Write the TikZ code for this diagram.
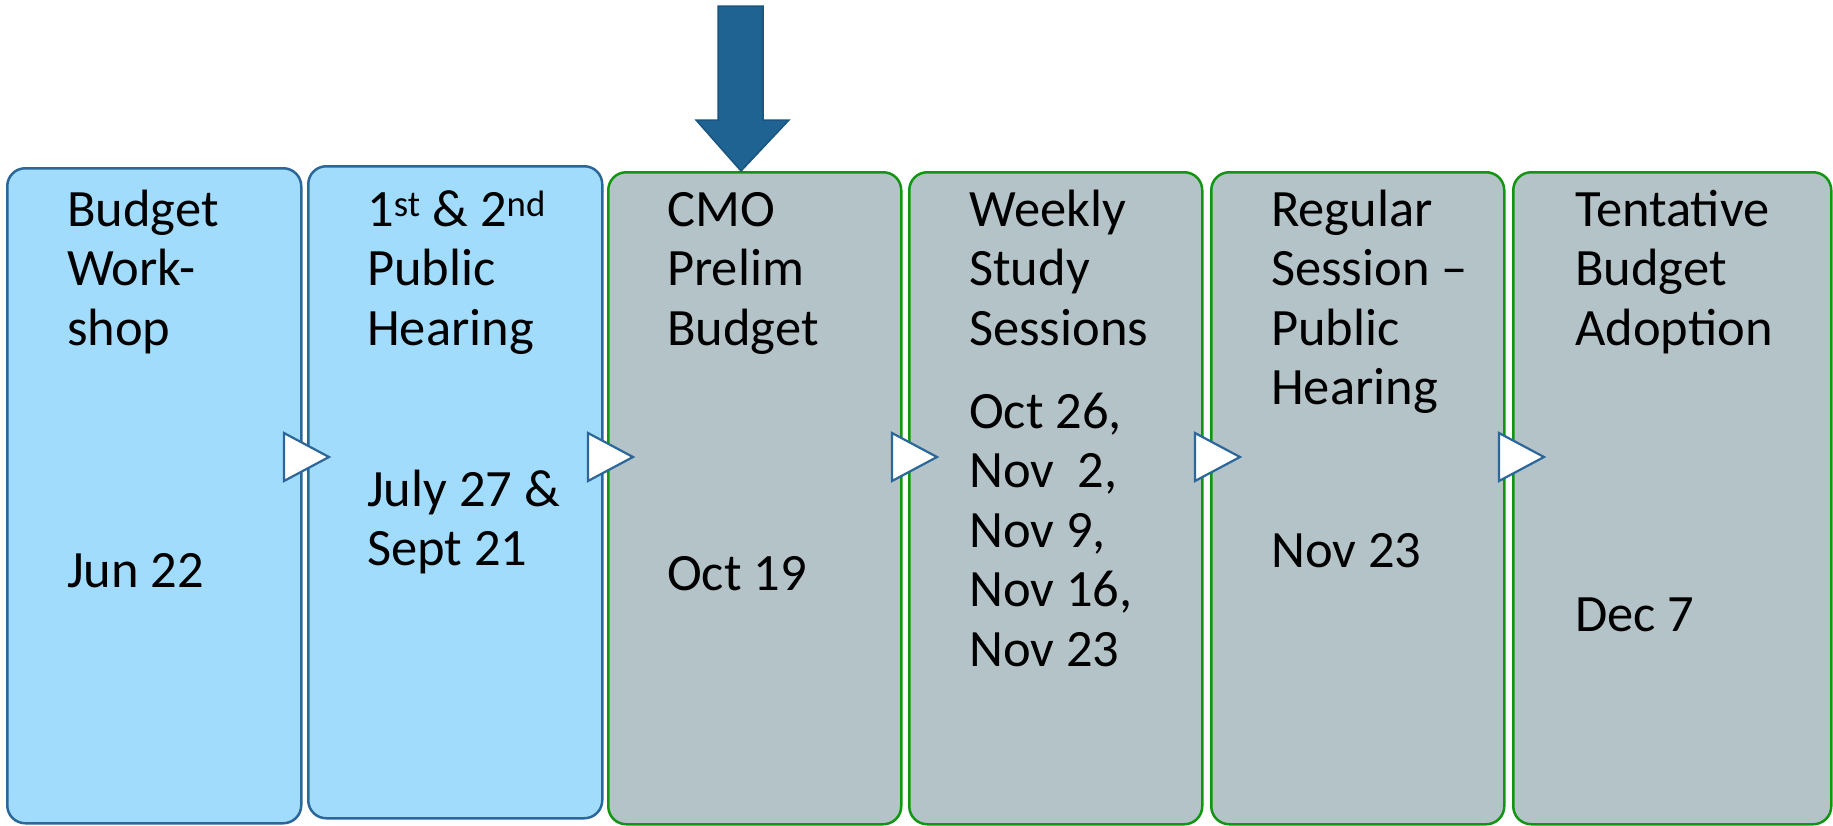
\documentclass[tikz,border=0pt]{standalone}
\usepackage{fontspec}
\setmainfont{Carlito}
\definecolor{boxblue}{HTML}{2B679A}
\definecolor{fillblue}{HTML}{A2DCFC}
\definecolor{boxgreen}{HTML}{129612}
\definecolor{fillgray}{HTML}{B4C3C8}
\definecolor{arrowblue}{HTML}{1F6392}
\definecolor{arrowedge}{HTML}{19557F}
\newcommand{\blk}[1]{\begin{tabular}[t]{@{}l@{}}#1\end{tabular}}
\begin{document}
\begin{tikzpicture}[x=1pt,y=-1pt,
  bluebox/.style={draw=boxblue, fill=fillblue, line width=2.5pt, rounded corners=18pt, anchor=north west, minimum width=294pt, inner sep=0pt},
  graybox/.style={draw=boxgreen, fill=fillgray, line width=2.5pt, rounded corners=18pt, anchor=north west, minimum width=293pt, inner sep=0pt},
  txt/.style={anchor=base west, inner sep=0pt, font=\fontsize{52.5}{59.5}\selectfont},
  chev/.style={draw=boxblue, fill=white, line width=2.2pt, line join=miter},
  bigarrow/.style={draw=arrowedge, fill=arrowblue, line width=1.5pt, line join=miter}]
\useasboundingbox (0,0) rectangle (1833,825);
% boxes
\node[bluebox, minimum height=655pt] (b1) at (6,167) {};
\node[bluebox, minimum height=652pt] (b2) at (307,165) {};
\node[graybox, minimum height=652pt] (b3) at (607,171) {};
\node[graybox, minimum height=652pt] (b4) at (908,171) {};
\node[graybox, minimum height=652pt] (b5) at (1210,171) {};
\node[graybox, minimum height=652pt, minimum width=318pt] (b6) at (1512,171) {};
% top arrow
\draw[bigarrow] (718,6) -- (763,6) -- (763,120) -- (789,120) -- (b3.north -| 741,0) -- (696,120) -- (718,120) -- cycle;
% chevrons
\foreach \i/\x in {1/284, 2/588, 3/892, 4/1195, 5/1499}{
  \coordinate (t\i) at (\x,457);
  \draw[chev] (t\i) ++(0,-24) -- ++(45,24) -- ++(-45,24) -- cycle;
}
% texts
\node[txt] (l1) at (67,226) {\blk{Budget\\Work-\\shop}};
\node[txt] (d1) at (67,587) {Jun 22};
\node[txt] (l2) at (367,226) {\blk{1\textsuperscript{st} \& 2\textsuperscript{nd}\\Public\\Hearing}};
\node[txt] (d2) at (367,506) {\blk{July 27 \&\\Sept 21}};
\node[txt] (l3) at (667,226) {\blk{CMO\\Prelim\\Budget}};
\node[txt] (d3) at (667,590) {Oct 19};
\node[txt] (l4) at (969,226) {\blk{Weekly\\Study\\Sessions}};
\node[txt] (d4) at (969,428) {\blk{Oct 26,\\Nov\ \ 2,\\Nov 9,\\Nov 16,\\Nov 23}};
\node[txt] (l5) at (1271,226) {\blk{Regular\\Session --\\Public\\Hearing}};
\node[txt] (d5) at (1271,567) {Nov 23};
\node[txt] (l6) at (1575,226) {\blk{Tentative\\Budget\\Adoption}};
\node[txt] (d6) at (1575,631) {Dec 7};
\end{tikzpicture}
\end{document}
